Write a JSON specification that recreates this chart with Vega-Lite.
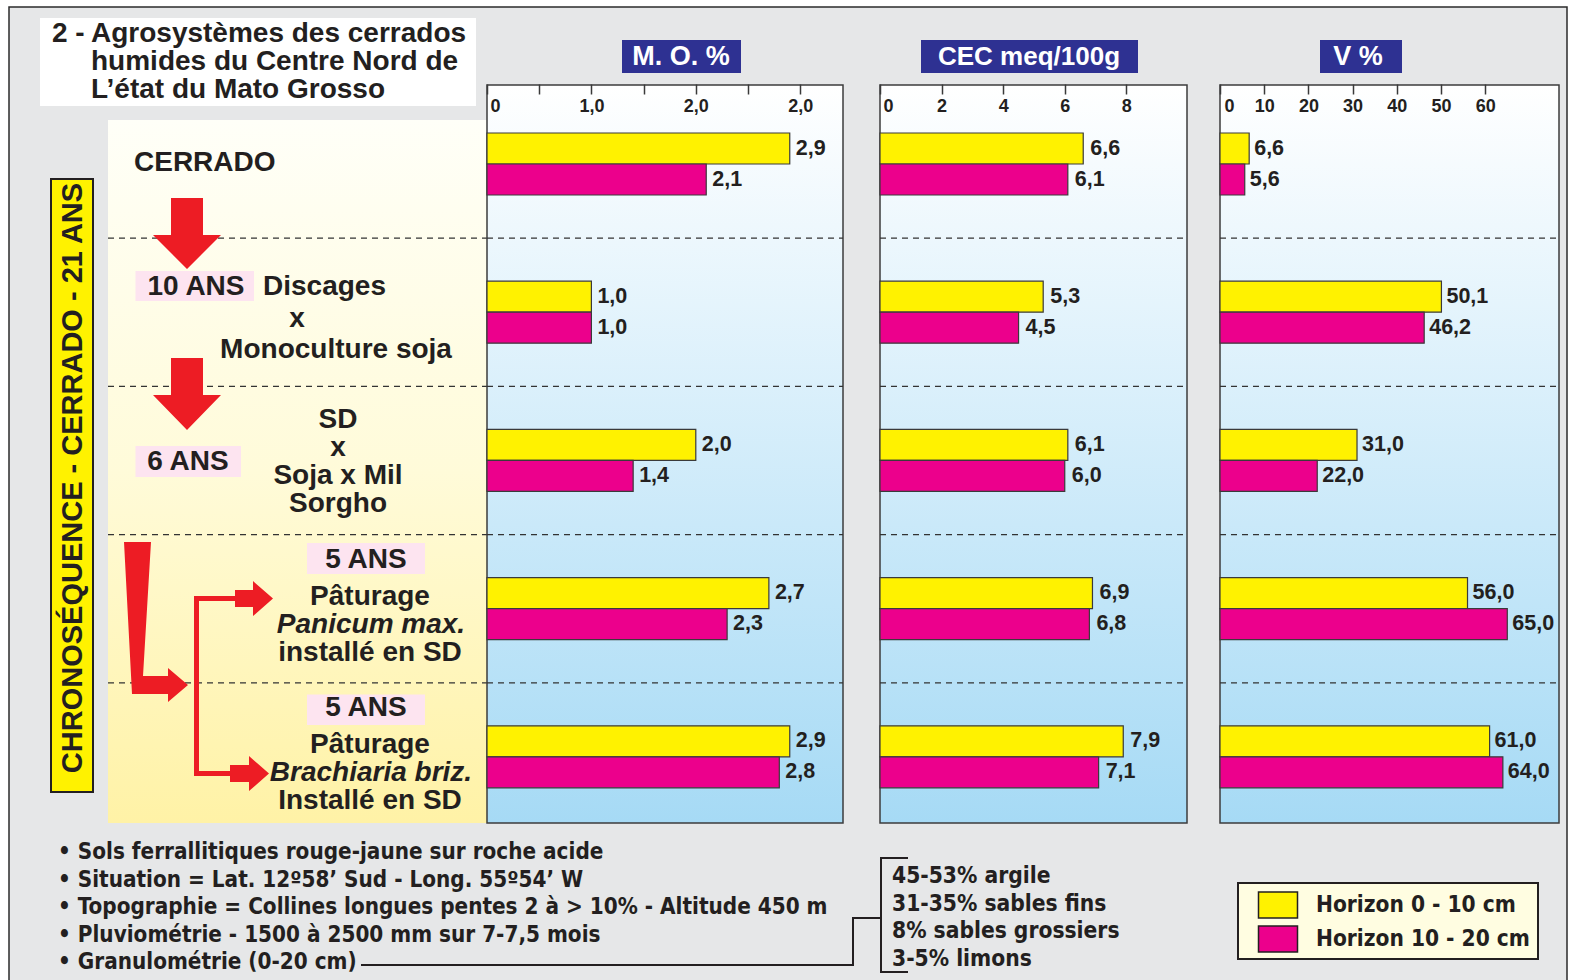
{
  "$schema": "https://vega.github.io/schema/vega-lite/v6.json",
  "width": 1574,
  "height": 980,
  "autosize": {"type": "none"},
  "padding": 0,
  "background": "#ffffff",
  "config": {
    "view": {"stroke": null},
    "locale": {"number": {"decimal": ",", "thousands": " ", "grouping": [3], "currency": ["", ""]}}
  },
  "datasets": {
    "bars": [
      {"panel": "MO", "stage": "CERRADO", "horizon": "Horizon 0 - 10 cm", "value": 2.9},
      {"panel": "MO", "stage": "CERRADO", "horizon": "Horizon 10 - 20 cm", "value": 2.1},
      {"panel": "MO", "stage": "10 ANS", "horizon": "Horizon 0 - 10 cm", "value": 1.0},
      {"panel": "MO", "stage": "10 ANS", "horizon": "Horizon 10 - 20 cm", "value": 1.0},
      {"panel": "MO", "stage": "6 ANS", "horizon": "Horizon 0 - 10 cm", "value": 2.0},
      {"panel": "MO", "stage": "6 ANS", "horizon": "Horizon 10 - 20 cm", "value": 1.4},
      {"panel": "MO", "stage": "5 ANS Panicum", "horizon": "Horizon 0 - 10 cm", "value": 2.7},
      {"panel": "MO", "stage": "5 ANS Panicum", "horizon": "Horizon 10 - 20 cm", "value": 2.3},
      {"panel": "MO", "stage": "5 ANS Brachiaria", "horizon": "Horizon 0 - 10 cm", "value": 2.9},
      {"panel": "MO", "stage": "5 ANS Brachiaria", "horizon": "Horizon 10 - 20 cm", "value": 2.8},
      {"panel": "CEC", "stage": "CERRADO", "horizon": "Horizon 0 - 10 cm", "value": 6.6},
      {"panel": "CEC", "stage": "CERRADO", "horizon": "Horizon 10 - 20 cm", "value": 6.1},
      {"panel": "CEC", "stage": "10 ANS", "horizon": "Horizon 0 - 10 cm", "value": 5.3},
      {"panel": "CEC", "stage": "10 ANS", "horizon": "Horizon 10 - 20 cm", "value": 4.5},
      {"panel": "CEC", "stage": "6 ANS", "horizon": "Horizon 0 - 10 cm", "value": 6.1},
      {"panel": "CEC", "stage": "6 ANS", "horizon": "Horizon 10 - 20 cm", "value": 6.0},
      {"panel": "CEC", "stage": "5 ANS Panicum", "horizon": "Horizon 0 - 10 cm", "value": 6.9},
      {"panel": "CEC", "stage": "5 ANS Panicum", "horizon": "Horizon 10 - 20 cm", "value": 6.8},
      {"panel": "CEC", "stage": "5 ANS Brachiaria", "horizon": "Horizon 0 - 10 cm", "value": 7.9},
      {"panel": "CEC", "stage": "5 ANS Brachiaria", "horizon": "Horizon 10 - 20 cm", "value": 7.1},
      {"panel": "V", "stage": "CERRADO", "horizon": "Horizon 0 - 10 cm", "value": 6.6},
      {"panel": "V", "stage": "CERRADO", "horizon": "Horizon 10 - 20 cm", "value": 5.6},
      {"panel": "V", "stage": "10 ANS", "horizon": "Horizon 0 - 10 cm", "value": 50.1},
      {"panel": "V", "stage": "10 ANS", "horizon": "Horizon 10 - 20 cm", "value": 46.2},
      {"panel": "V", "stage": "6 ANS", "horizon": "Horizon 0 - 10 cm", "value": 31.0},
      {"panel": "V", "stage": "6 ANS", "horizon": "Horizon 10 - 20 cm", "value": 22.0},
      {"panel": "V", "stage": "5 ANS Panicum", "horizon": "Horizon 0 - 10 cm", "value": 56.0},
      {"panel": "V", "stage": "5 ANS Panicum", "horizon": "Horizon 10 - 20 cm", "value": 65.0},
      {"panel": "V", "stage": "5 ANS Brachiaria", "horizon": "Horizon 0 - 10 cm", "value": 61.0},
      {"panel": "V", "stage": "5 ANS Brachiaria", "horizon": "Horizon 10 - 20 cm", "value": 64.0}
    ],
    "separators": [
      {"stage": "CERRADO"}, {"stage": "10 ANS"}, {"stage": "6 ANS"}, {"stage": "5 ANS Panicum"}
    ]
  },
  "layer": [
    {
      "data": {"values": [{}]},
      "mark": {"type": "rect", "fill": "#e6e7e8", "stroke": "#2b2b2b", "strokeWidth": 1.5},
      "encoding": {"x": {"value": 9}, "x2": {"value": 1567}, "y": {"value": 7}, "y2": {"value": 998}}
    },
    {
      "data": {"values": [{}]},
      "mark": {"type": "rect", "fill": "#ffffff"},
      "encoding": {"x": {"value": 40}, "x2": {"value": 476}, "y": {"value": 18}, "y2": {"value": 106}}
    },
    {
      "data": {"values": [{"t": "2 -"}]},
      "mark": {"type": "text", "align": "left", "baseline": "middle", "font": "Liberation Sans, Arial, sans-serif", "fontWeight": "bold", "fontSize": 28, "fill": "#231f20"},
      "encoding": {"x": {"value": 52}, "y": {"value": 34}, "text": {"field": "t"}}
    },
    {
      "data": {"values": [{"t": "Agrosystèmes des cerrados\nhumides du Centre Nord de\nL’état du Mato Grosso"}]},
      "mark": {"type": "text", "align": "left", "baseline": "middle", "lineBreak": "\n", "lineHeight": 28, "font": "Liberation Sans, Arial, sans-serif", "fontWeight": "bold", "fontSize": 28, "fill": "#231f20"},
      "encoding": {"x": {"value": 91}, "y": {"value": 34}, "text": {"field": "t"}}
    },
    {
      "data": {"values": [{}]},
      "mark": {"type": "rect", "fill": {"gradient": "linear", "x1": 0, "y1": 0, "x2": 0, "y2": 1, "stops": [{"offset": 0, "color": "#fffff8"}, {"offset": 0.5, "color": "#fffbd9"}, {"offset": 1, "color": "#fff2a6"}]}},
      "encoding": {"x": {"value": 108}, "x2": {"value": 487}, "y": {"value": 120}, "y2": {"value": 823}}
    },
    {
      "data": {"name": "separators"},
      "mark": {"type": "rule", "stroke": "#333333", "strokeWidth": 1.2, "strokeDash": [6, 5]},
      "encoding": {
        "x": {"value": 108}, "x2": {"value": 487},
        "y": {"field": "stage", "type": "nominal", "bandPosition": 1, "axis": null, "scale": {"domain": ["CERRADO", "10 ANS", "6 ANS", "5 ANS Panicum", "5 ANS Brachiaria"], "range": [90, 831], "paddingInner": 0, "paddingOuter": 0}}
      }
    },
    {
      "layer": [
        {
          "data": {"values": [{}]},
          "mark": {"type": "rect", "fill": {"gradient": "linear", "x1": 0, "y1": 0, "x2": 0, "y2": 1, "stops": [{"offset": 0, "color": "#ffffff"}, {"offset": 1, "color": "#a6daf5"}]}, "stroke": "#3d3d3d", "strokeWidth": 1.5},
          "encoding": {
            "x": {"datum": 0, "type": "quantitative", "scale": {"domain": [0, 3.41], "range": [487, 843]}, "axis": {"orient": "top", "offset": -94, "tickSize": 10, "labelPadding": -31, "domain": false, "grid": false, "title": null, "values": [0, 0.5, 1, 1.5, 2, 2.5, 3], "labelExpr": "datum.value == 0 ? '0' : datum.value == 1 ? '1,0' : datum.value == 2 ? '2,0' : datum.value == 3 ? '2,0' : ''", "labelFont": "Liberation Sans, Arial, sans-serif", "labelFontWeight": "bold", "labelFontSize": 18, "labelColor": "#231f20", "tickColor": "#3a3a3a", "tickWidth": 1.5, "labelFlush": true, "labelFlushOffset": -3, "labelOverlap": false, "labelBound": false, "zindex": 1}},
            "x2": {"datum": 3.41},
            "y": {"value": 85}, "y2": {"value": 823}
          }
        },
        {
          "data": {"name": "separators"},
          "mark": {"type": "rule", "stroke": "#333333", "strokeWidth": 1.2, "strokeDash": [6, 5]},
          "encoding": {
            "x": {"datum": 0, "type": "quantitative", "scale": {"domain": [0, 3.41], "range": [487, 843]}},
            "x2": {"datum": 3.41},
            "y": {"field": "stage", "type": "nominal", "bandPosition": 1, "axis": null, "scale": {"domain": ["CERRADO", "10 ANS", "6 ANS", "5 ANS Panicum", "5 ANS Brachiaria"], "range": [90, 831], "paddingInner": 0, "paddingOuter": 0}}
          }
        },
        {
          "data": {"name": "bars"},
          "transform": [{"filter": "datum.panel == 'MO'"}],
          "mark": {"type": "bar", "stroke": "#3a3a3a", "strokeWidth": 1.2},
          "encoding": {
            "x": {"field": "value", "type": "quantitative", "scale": {"domain": [0, 3.41], "range": [487, 843]}},
            "y": {"field": "stage", "type": "nominal", "axis": null, "scale": {"domain": ["CERRADO", "10 ANS", "6 ANS", "5 ANS Panicum", "5 ANS Brachiaria"], "range": [90, 831], "paddingInner": 0, "paddingOuter": 0}},
            "yOffset": {"field": "horizon", "type": "nominal", "scale": {"domain": ["Horizon 0 - 10 cm", "Horizon 10 - 20 cm"], "range": [43, 105], "paddingInner": 0, "paddingOuter": 0}},
            "color": {"field": "horizon", "type": "nominal", "scale": {"domain": ["Horizon 0 - 10 cm", "Horizon 10 - 20 cm"], "range": ["#fff200", "#ec008c"]}, "legend": {"orient": "none", "legendX": 1264, "legendY": 891, "title": null, "direction": "vertical", "symbolType": "M-1.5,-1L1.5,-1L1.5,1L-1.5,1Z", "symbolSize": 676, "symbolStrokeColor": "#231f20", "symbolStrokeWidth": 1.5, "symbolOpacity": 1, "labelFont": "DejaVu Sans Condensed, Liberation Sans Narrow, sans-serif", "labelFontWeight": "bold", "labelFontSize": 22.5, "labelColor": "#231f20", "labelOffset": 24, "rowPadding": 2, "padding": 0, "labelLimit": 400, "zindex": 1}}
          }
        },
        {
          "data": {"name": "bars"},
          "transform": [{"filter": "datum.panel == 'MO'"}],
          "mark": {"type": "text", "align": "left", "baseline": "middle", "dx": 6, "font": "Liberation Sans, Arial, sans-serif", "fontWeight": "bold", "fontSize": 21.5, "fill": "#231f20"},
          "encoding": {
            "x": {"field": "value", "type": "quantitative", "scale": {"domain": [0, 3.41], "range": [487, 843]}},
            "y": {"field": "stage", "type": "nominal", "axis": null, "scale": {"domain": ["CERRADO", "10 ANS", "6 ANS", "5 ANS Panicum", "5 ANS Brachiaria"], "range": [90, 831], "paddingInner": 0, "paddingOuter": 0}},
            "yOffset": {"field": "horizon", "type": "nominal", "scale": {"domain": ["Horizon 0 - 10 cm", "Horizon 10 - 20 cm"], "range": [43, 105], "paddingInner": 0, "paddingOuter": 0}},
            "text": {"field": "value", "type": "quantitative", "format": ".1f"}
          }
        }
      ]
    },
    {
      "layer": [
        {
          "data": {"values": [{}]},
          "mark": {"type": "rect", "fill": {"gradient": "linear", "x1": 0, "y1": 0, "x2": 0, "y2": 1, "stops": [{"offset": 0, "color": "#ffffff"}, {"offset": 1, "color": "#a6daf5"}]}, "stroke": "#3d3d3d", "strokeWidth": 1.5},
          "encoding": {
            "x": {"datum": 0, "type": "quantitative", "scale": {"domain": [0, 9.97], "range": [880, 1187]}, "axis": {"orient": "top", "offset": -94, "tickSize": 10, "labelPadding": -31, "domain": false, "grid": false, "title": null, "values": [0, 2, 4, 6, 8], "format": "d", "labelFont": "Liberation Sans, Arial, sans-serif", "labelFontWeight": "bold", "labelFontSize": 18, "labelColor": "#231f20", "tickColor": "#3a3a3a", "tickWidth": 1.5, "labelFlush": true, "labelFlushOffset": -3, "labelOverlap": false, "labelBound": false, "zindex": 1}},
            "x2": {"datum": 9.97},
            "y": {"value": 85}, "y2": {"value": 823}
          }
        },
        {
          "data": {"name": "separators"},
          "mark": {"type": "rule", "stroke": "#333333", "strokeWidth": 1.2, "strokeDash": [6, 5]},
          "encoding": {
            "x": {"datum": 0, "type": "quantitative", "scale": {"domain": [0, 9.97], "range": [880, 1187]}},
            "x2": {"datum": 9.97},
            "y": {"field": "stage", "type": "nominal", "bandPosition": 1, "axis": null, "scale": {"domain": ["CERRADO", "10 ANS", "6 ANS", "5 ANS Panicum", "5 ANS Brachiaria"], "range": [90, 831], "paddingInner": 0, "paddingOuter": 0}}
          }
        },
        {
          "data": {"name": "bars"},
          "transform": [{"filter": "datum.panel == 'CEC'"}],
          "mark": {"type": "bar", "stroke": "#3a3a3a", "strokeWidth": 1.2},
          "encoding": {
            "x": {"field": "value", "type": "quantitative", "scale": {"domain": [0, 9.97], "range": [880, 1187]}},
            "y": {"field": "stage", "type": "nominal", "axis": null, "scale": {"domain": ["CERRADO", "10 ANS", "6 ANS", "5 ANS Panicum", "5 ANS Brachiaria"], "range": [90, 831], "paddingInner": 0, "paddingOuter": 0}},
            "yOffset": {"field": "horizon", "type": "nominal", "scale": {"domain": ["Horizon 0 - 10 cm", "Horizon 10 - 20 cm"], "range": [43, 105], "paddingInner": 0, "paddingOuter": 0}},
            "color": {"field": "horizon", "type": "nominal", "scale": {"domain": ["Horizon 0 - 10 cm", "Horizon 10 - 20 cm"], "range": ["#fff200", "#ec008c"]}, "legend": {"orient": "none", "legendX": 1264, "legendY": 891, "title": null, "direction": "vertical", "symbolType": "M-1.5,-1L1.5,-1L1.5,1L-1.5,1Z", "symbolSize": 676, "symbolStrokeColor": "#231f20", "symbolStrokeWidth": 1.5, "symbolOpacity": 1, "labelFont": "DejaVu Sans Condensed, Liberation Sans Narrow, sans-serif", "labelFontWeight": "bold", "labelFontSize": 22.5, "labelColor": "#231f20", "labelOffset": 24, "rowPadding": 2, "padding": 0, "labelLimit": 400, "zindex": 1}}
          }
        },
        {
          "data": {"name": "bars"},
          "transform": [{"filter": "datum.panel == 'CEC'"}],
          "mark": {"type": "text", "align": "left", "baseline": "middle", "dx": 7, "font": "Liberation Sans, Arial, sans-serif", "fontWeight": "bold", "fontSize": 21.5, "fill": "#231f20"},
          "encoding": {
            "x": {"field": "value", "type": "quantitative", "scale": {"domain": [0, 9.97], "range": [880, 1187]}},
            "y": {"field": "stage", "type": "nominal", "axis": null, "scale": {"domain": ["CERRADO", "10 ANS", "6 ANS", "5 ANS Panicum", "5 ANS Brachiaria"], "range": [90, 831], "paddingInner": 0, "paddingOuter": 0}},
            "yOffset": {"field": "horizon", "type": "nominal", "scale": {"domain": ["Horizon 0 - 10 cm", "Horizon 10 - 20 cm"], "range": [43, 105], "paddingInner": 0, "paddingOuter": 0}},
            "text": {"field": "value", "type": "quantitative", "format": ".1f"}
          }
        }
      ]
    },
    {
      "layer": [
        {
          "data": {"values": [{}]},
          "mark": {"type": "rect", "fill": {"gradient": "linear", "x1": 0, "y1": 0, "x2": 0, "y2": 1, "stops": [{"offset": 0, "color": "#ffffff"}, {"offset": 1, "color": "#a6daf5"}]}, "stroke": "#3d3d3d", "strokeWidth": 1.5},
          "encoding": {
            "x": {"datum": 0, "type": "quantitative", "scale": {"domain": [0, 76.7], "range": [1220, 1559]}, "axis": {"orient": "top", "offset": -94, "tickSize": 10, "labelPadding": -31, "domain": false, "grid": false, "title": null, "values": [0, 10, 20, 30, 40, 50, 60], "format": "d", "labelFont": "Liberation Sans, Arial, sans-serif", "labelFontWeight": "bold", "labelFontSize": 18, "labelColor": "#231f20", "tickColor": "#3a3a3a", "tickWidth": 1.5, "labelFlush": true, "labelFlushOffset": -4, "labelOverlap": false, "labelBound": false, "zindex": 1}},
            "x2": {"datum": 76.7},
            "y": {"value": 85}, "y2": {"value": 823}
          }
        },
        {
          "data": {"name": "separators"},
          "mark": {"type": "rule", "stroke": "#333333", "strokeWidth": 1.2, "strokeDash": [6, 5]},
          "encoding": {
            "x": {"datum": 0, "type": "quantitative", "scale": {"domain": [0, 76.7], "range": [1220, 1559]}},
            "x2": {"datum": 76.7},
            "y": {"field": "stage", "type": "nominal", "bandPosition": 1, "axis": null, "scale": {"domain": ["CERRADO", "10 ANS", "6 ANS", "5 ANS Panicum", "5 ANS Brachiaria"], "range": [90, 831], "paddingInner": 0, "paddingOuter": 0}}
          }
        },
        {
          "data": {"name": "bars"},
          "transform": [{"filter": "datum.panel == 'V'"}],
          "mark": {"type": "bar", "stroke": "#3a3a3a", "strokeWidth": 1.2},
          "encoding": {
            "x": {"field": "value", "type": "quantitative", "scale": {"domain": [0, 76.7], "range": [1220, 1559]}},
            "y": {"field": "stage", "type": "nominal", "axis": null, "scale": {"domain": ["CERRADO", "10 ANS", "6 ANS", "5 ANS Panicum", "5 ANS Brachiaria"], "range": [90, 831], "paddingInner": 0, "paddingOuter": 0}},
            "yOffset": {"field": "horizon", "type": "nominal", "scale": {"domain": ["Horizon 0 - 10 cm", "Horizon 10 - 20 cm"], "range": [43, 105], "paddingInner": 0, "paddingOuter": 0}},
            "color": {"field": "horizon", "type": "nominal", "scale": {"domain": ["Horizon 0 - 10 cm", "Horizon 10 - 20 cm"], "range": ["#fff200", "#ec008c"]}, "legend": {"orient": "none", "legendX": 1264, "legendY": 891, "title": null, "direction": "vertical", "symbolType": "M-1.5,-1L1.5,-1L1.5,1L-1.5,1Z", "symbolSize": 676, "symbolStrokeColor": "#231f20", "symbolStrokeWidth": 1.5, "symbolOpacity": 1, "labelFont": "DejaVu Sans Condensed, Liberation Sans Narrow, sans-serif", "labelFontWeight": "bold", "labelFontSize": 22.5, "labelColor": "#231f20", "labelOffset": 24, "rowPadding": 2, "padding": 0, "labelLimit": 400, "zindex": 1}}
          }
        },
        {
          "data": {"name": "bars"},
          "transform": [{"filter": "datum.panel == 'V'"}],
          "mark": {"type": "text", "align": "left", "baseline": "middle", "dx": 5, "font": "Liberation Sans, Arial, sans-serif", "fontWeight": "bold", "fontSize": 21.5, "fill": "#231f20"},
          "encoding": {
            "x": {"field": "value", "type": "quantitative", "scale": {"domain": [0, 76.7], "range": [1220, 1559]}},
            "y": {"field": "stage", "type": "nominal", "axis": null, "scale": {"domain": ["CERRADO", "10 ANS", "6 ANS", "5 ANS Panicum", "5 ANS Brachiaria"], "range": [90, 831], "paddingInner": 0, "paddingOuter": 0}},
            "yOffset": {"field": "horizon", "type": "nominal", "scale": {"domain": ["Horizon 0 - 10 cm", "Horizon 10 - 20 cm"], "range": [43, 105], "paddingInner": 0, "paddingOuter": 0}},
            "text": {"field": "value", "type": "quantitative", "format": ".1f"}
          }
        }
      ]
    },
    {
      "data": {"values": [{}]},
      "mark": {"type": "rect", "fill": "#2e3192"},
      "encoding": {"x": {"value": 622}, "x2": {"value": 741}, "y": {"value": 40}, "y2": {"value": 73}}
    },
    {
      "data": {"values": [{}]},
      "mark": {"type": "rect", "fill": "#2e3192"},
      "encoding": {"x": {"value": 921}, "x2": {"value": 1138}, "y": {"value": 40}, "y2": {"value": 73}}
    },
    {
      "data": {"values": [{}]},
      "mark": {"type": "rect", "fill": "#2e3192"},
      "encoding": {"x": {"value": 1320}, "x2": {"value": 1402}, "y": {"value": 40}, "y2": {"value": 73}}
    },
    {
      "data": {"values": [{"t": "M. O. %"}]},
      "mark": {"type": "text", "align": "center", "baseline": "middle", "font": "Liberation Sans, Arial, sans-serif", "fontWeight": "bold", "fontSize": 27, "fill": "#ffffff"},
      "encoding": {"x": {"value": 681}, "y": {"value": 57}, "text": {"field": "t"}}
    },
    {
      "data": {"values": [{"t": "CEC meq/100g"}]},
      "mark": {"type": "text", "align": "center", "baseline": "middle", "font": "Liberation Sans, Arial, sans-serif", "fontWeight": "bold", "fontSize": 26, "fill": "#ffffff"},
      "encoding": {"x": {"value": 1029}, "y": {"value": 57}, "text": {"field": "t"}}
    },
    {
      "data": {"values": [{"t": "V %"}]},
      "mark": {"type": "text", "align": "center", "baseline": "middle", "font": "Liberation Sans, Arial, sans-serif", "fontWeight": "bold", "fontSize": 27, "fill": "#ffffff"},
      "encoding": {"x": {"value": 1358}, "y": {"value": 57}, "text": {"field": "t"}}
    },
    {
      "data": {"values": [{}]},
      "mark": {"type": "point", "shape": "M-1.445,-2.29L-0.26,-2.29L-0.26,-1.99L-1.445,-1.99Z M-1.445,-0.54L-0.39,-0.54L-0.39,-0.23L-1.445,-0.23Z M0.27,0.43L1.45,0.43L1.45,0.74L0.27,0.74Z M0.27,1.945L1.45,1.945L1.45,2.25L0.27,2.25Z", "size": 40000, "filled": true, "fill": "#fde4f0", "strokeWidth": 0, "opacity": 1},
      "encoding": {"x": {"value": 280}, "y": {"value": 500}}
    },
    {
      "data": {"values": [{}]},
      "mark": {"type": "point", "shape": "M-0.16,-1.15L0.16,-1.15L0.16,-0.78L0.34,-0.78L0,-0.44L-0.34,-0.78L-0.16,-0.78Z M-0.16,0.45L0.16,0.45L0.16,0.82L0.34,0.82L0,1.17L-0.34,0.82L-0.16,0.82Z", "size": 40000, "filled": true, "fill": "#ed1c24", "strokeWidth": 0, "opacity": 1},
      "encoding": {"x": {"value": 187}, "y": {"value": 313}}
    },
    {
      "data": {"values": [{}]},
      "mark": {"type": "point", "shape": "M-0.76,-1.18L-0.49,-1.18L-0.57,0.16L-0.32,0.16L-0.32,0.08L-0.12,0.25L-0.32,0.42L-0.32,0.34L-0.68,0.34Z M-0.06,-0.64L0.35,-0.64L0.35,-0.70L0.53,-0.70L0.53,-0.79L0.73,-0.615L0.53,-0.44L0.53,-0.53L0.35,-0.53L0.35,-0.59L-0.01,-0.59L-0.01,1.11L0.30,1.11L0.30,1.05L0.49,1.05L0.49,0.96L0.69,1.135L0.49,1.31L0.49,1.22L0.30,1.22L0.30,1.16L-0.06,1.16Z", "size": 40000, "filled": true, "fill": "#ed1c24", "strokeWidth": 0, "opacity": 1},
      "encoding": {"x": {"value": 200}, "y": {"value": 660}}
    },
    {
      "data": {"values": [{"stage": "CERRADO", "t": "CERRADO"}]},
      "mark": {"type": "text", "align": "left", "baseline": "middle", "dy": -1, "font": "Liberation Sans, Arial, sans-serif", "fontWeight": "bold", "fontSize": 28, "fill": "#231f20"},
      "encoding": {"x": {"value": 134}, "y": {"field": "stage", "type": "nominal", "axis": null, "scale": {"domain": ["CERRADO", "10 ANS", "6 ANS", "5 ANS Panicum", "5 ANS Brachiaria"], "range": [90, 831], "paddingInner": 0, "paddingOuter": 0}}, "text": {"field": "t"}}
    },
    {
      "data": {"values": [{"stage": "10 ANS", "t": "10 ANS"}]},
      "mark": {"type": "text", "align": "center", "baseline": "middle", "dy": -25, "font": "Liberation Sans, Arial, sans-serif", "fontWeight": "bold", "fontSize": 28, "fill": "#231f20"},
      "encoding": {"x": {"value": 196}, "y": {"field": "stage", "type": "nominal", "axis": null, "scale": {"domain": ["CERRADO", "10 ANS", "6 ANS", "5 ANS Panicum", "5 ANS Brachiaria"], "range": [90, 831], "paddingInner": 0, "paddingOuter": 0}}, "text": {"field": "t"}}
    },
    {
      "data": {"values": [{"stage": "10 ANS", "t": "Discages"}]},
      "mark": {"type": "text", "align": "left", "baseline": "middle", "dy": -25, "font": "Liberation Sans, Arial, sans-serif", "fontWeight": "bold", "fontSize": 28, "fill": "#231f20"},
      "encoding": {"x": {"value": 263}, "y": {"field": "stage", "type": "nominal", "axis": null, "scale": {"domain": ["CERRADO", "10 ANS", "6 ANS", "5 ANS Panicum", "5 ANS Brachiaria"], "range": [90, 831], "paddingInner": 0, "paddingOuter": 0}}, "text": {"field": "t"}}
    },
    {
      "data": {"values": [{"stage": "10 ANS", "t": "x"}]},
      "mark": {"type": "text", "align": "center", "baseline": "middle", "dy": 7, "font": "Liberation Sans, Arial, sans-serif", "fontWeight": "bold", "fontSize": 28, "fill": "#231f20"},
      "encoding": {"x": {"value": 297}, "y": {"field": "stage", "type": "nominal", "axis": null, "scale": {"domain": ["CERRADO", "10 ANS", "6 ANS", "5 ANS Panicum", "5 ANS Brachiaria"], "range": [90, 831], "paddingInner": 0, "paddingOuter": 0}}, "text": {"field": "t"}}
    },
    {
      "data": {"values": [{"stage": "10 ANS", "t": "Monoculture soja"}]},
      "mark": {"type": "text", "align": "center", "baseline": "middle", "dy": 38, "font": "Liberation Sans, Arial, sans-serif", "fontWeight": "bold", "fontSize": 28, "fill": "#231f20"},
      "encoding": {"x": {"value": 336}, "y": {"field": "stage", "type": "nominal", "axis": null, "scale": {"domain": ["CERRADO", "10 ANS", "6 ANS", "5 ANS Panicum", "5 ANS Brachiaria"], "range": [90, 831], "paddingInner": 0, "paddingOuter": 0}}, "text": {"field": "t"}}
    },
    {
      "data": {"values": [{"stage": "6 ANS", "t": "6 ANS"}]},
      "mark": {"type": "text", "align": "center", "baseline": "middle", "dy": 1, "font": "Liberation Sans, Arial, sans-serif", "fontWeight": "bold", "fontSize": 28, "fill": "#231f20"},
      "encoding": {"x": {"value": 188}, "y": {"field": "stage", "type": "nominal", "axis": null, "scale": {"domain": ["CERRADO", "10 ANS", "6 ANS", "5 ANS Panicum", "5 ANS Brachiaria"], "range": [90, 831], "paddingInner": 0, "paddingOuter": 0}}, "text": {"field": "t"}}
    },
    {
      "data": {"values": [{"stage": "6 ANS", "t": "SD\nx\nSoja x Mil\nSorgho"}]},
      "mark": {"type": "text", "align": "center", "baseline": "middle", "lineBreak": "\n", "lineHeight": 28.3, "dy": -41, "font": "Liberation Sans, Arial, sans-serif", "fontWeight": "bold", "fontSize": 28, "fill": "#231f20"},
      "encoding": {"x": {"value": 338}, "y": {"field": "stage", "type": "nominal", "axis": null, "scale": {"domain": ["CERRADO", "10 ANS", "6 ANS", "5 ANS Panicum", "5 ANS Brachiaria"], "range": [90, 831], "paddingInner": 0, "paddingOuter": 0}}, "text": {"field": "t"}}
    },
    {
      "data": {"values": [{"stage": "5 ANS Panicum", "t": "5 ANS"}, {"stage": "5 ANS Brachiaria", "t": "5 ANS"}]},
      "mark": {"type": "text", "align": "center", "baseline": "middle", "dy": -49, "font": "Liberation Sans, Arial, sans-serif", "fontWeight": "bold", "fontSize": 28, "fill": "#231f20"},
      "encoding": {"x": {"value": 366}, "y": {"field": "stage", "type": "nominal", "axis": null, "scale": {"domain": ["CERRADO", "10 ANS", "6 ANS", "5 ANS Panicum", "5 ANS Brachiaria"], "range": [90, 831], "paddingInner": 0, "paddingOuter": 0}}, "text": {"field": "t"}}
    },
    {
      "data": {"values": [{"stage": "5 ANS Panicum", "t": "Pâturage"}, {"stage": "5 ANS Brachiaria", "t": "Pâturage"}]},
      "mark": {"type": "text", "align": "center", "baseline": "middle", "dy": -12, "font": "Liberation Sans, Arial, sans-serif", "fontWeight": "bold", "fontSize": 28, "fill": "#231f20"},
      "encoding": {"x": {"value": 370}, "y": {"field": "stage", "type": "nominal", "axis": null, "scale": {"domain": ["CERRADO", "10 ANS", "6 ANS", "5 ANS Panicum", "5 ANS Brachiaria"], "range": [90, 831], "paddingInner": 0, "paddingOuter": 0}}, "text": {"field": "t"}}
    },
    {
      "data": {"values": [{"stage": "5 ANS Panicum", "t": "Panicum max."}, {"stage": "5 ANS Brachiaria", "t": "Brachiaria briz."}]},
      "mark": {"type": "text", "align": "center", "baseline": "middle", "dy": 16, "font": "Liberation Sans, Arial, sans-serif", "fontWeight": "bold", "fontStyle": "italic", "fontSize": 28, "fill": "#231f20"},
      "encoding": {"x": {"value": 371}, "y": {"field": "stage", "type": "nominal", "axis": null, "scale": {"domain": ["CERRADO", "10 ANS", "6 ANS", "5 ANS Panicum", "5 ANS Brachiaria"], "range": [90, 831], "paddingInner": 0, "paddingOuter": 0}}, "text": {"field": "t"}}
    },
    {
      "data": {"values": [{"stage": "5 ANS Panicum", "t": "installé en SD"}, {"stage": "5 ANS Brachiaria", "t": "Installé en SD"}]},
      "mark": {"type": "text", "align": "center", "baseline": "middle", "dy": 44, "font": "Liberation Sans, Arial, sans-serif", "fontWeight": "bold", "fontSize": 28, "fill": "#231f20"},
      "encoding": {"x": {"value": 370}, "y": {"field": "stage", "type": "nominal", "axis": null, "scale": {"domain": ["CERRADO", "10 ANS", "6 ANS", "5 ANS Panicum", "5 ANS Brachiaria"], "range": [90, 831], "paddingInner": 0, "paddingOuter": 0}}, "text": {"field": "t"}}
    },
    {
      "data": {"values": [{}]},
      "mark": {"type": "rect", "fill": "#fff200", "stroke": "#231f20", "strokeWidth": 2},
      "encoding": {"x": {"value": 51}, "x2": {"value": 93}, "y": {"value": 179}, "y2": {"value": 792}}
    },
    {
      "data": {"values": [{"t": "CHRONOSÉQUENCE - CERRADO - 21 ANS"}]},
      "mark": {"type": "text", "align": "center", "baseline": "middle", "angle": 270, "font": "Liberation Sans, Arial, sans-serif", "fontWeight": "bold", "fontSize": 29, "fill": "#231f20"},
      "encoding": {"x": {"value": 73}, "y": {"value": 478}, "text": {"field": "t"}}
    },
    {
      "data": {"values": [{"t": "• Sols ferrallitiques rouge-jaune sur roche acide\n• Situation = Lat. 12º58’ Sud - Long. 55º54’ W\n• Topographie = Collines longues pentes 2 à > 10% - Altitude 450 m\n• Pluviométrie - 1500 à 2500 mm sur 7-7,5 mois\n• Granulométrie (0-20 cm)"}]},
      "mark": {"type": "text", "align": "left", "baseline": "middle", "lineBreak": "\n", "lineHeight": 27.5, "font": "DejaVu Sans Condensed, Liberation Sans Narrow, sans-serif", "fontWeight": "bold", "fontSize": 22.3, "fill": "#231f20"},
      "encoding": {"x": {"value": 58}, "y": {"value": 852}, "text": {"field": "t"}}
    },
    {
      "data": {"values": [{}]},
      "mark": {"type": "point", "shape": "M-2.59,0.5L2.33,0.5L2.33,0.03L2.61,0.03M2.88,-0.57L2.61,-0.57L2.61,0.57L2.88,0.57", "size": 40000, "filled": false, "stroke": "#231f20", "strokeWidth": 2, "opacity": 1},
      "encoding": {"x": {"value": 620}, "y": {"value": 915}}
    },
    {
      "data": {"values": [{"t": "45-53% argile\n31-35% sables fins\n8% sables grossiers\n3-5% limons"}]},
      "mark": {"type": "text", "align": "left", "baseline": "middle", "lineBreak": "\n", "lineHeight": 27.6, "font": "DejaVu Sans Condensed, Liberation Sans Narrow, sans-serif", "fontWeight": "bold", "fontSize": 22.6, "fill": "#231f20"},
      "encoding": {"x": {"value": 892}, "y": {"value": 876}, "text": {"field": "t"}}
    },
    {
      "data": {"values": [{}]},
      "mark": {"type": "rect", "fill": "#fffde1", "stroke": "#231f20", "strokeWidth": 2},
      "encoding": {"x": {"value": 1238}, "x2": {"value": 1538}, "y": {"value": 883}, "y2": {"value": 959}}
    }
  ],
  "resolve": {"scale": {"x": "independent"}, "axis": {"x": "independent"}}
}
